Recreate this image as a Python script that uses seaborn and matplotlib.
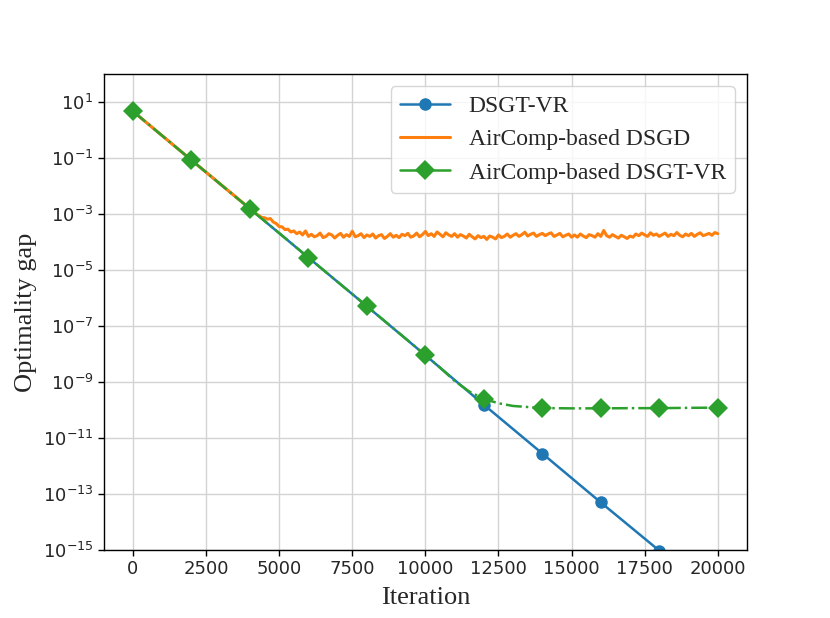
import numpy as np
import pandas as pd
import matplotlib
matplotlib.use("Agg")
import matplotlib.pyplot as plt
import matplotlib.ticker as mticker
import seaborn as sns

# ==================================================
# Data
# ==================================================
iters_vr = [0, 2000, 4000, 6000, 8000, 10000, 12000, 14000, 16000, 18000, 20000]
gap_dsgt_vr = [4.7, 8.5e-2, 1.55e-3, 2.8e-5, 5.1e-7, 9.1e-9,
               1.55e-10, 2.8e-12, 5.0e-14, 9.5e-16, 1.8e-17]

iters_air_vr = [0, 1000, 2000, 3000, 4000, 5000, 6000, 7000, 8000, 9000, 10000,
                10500, 11000, 11500, 12000, 12500, 13000, 14000, 15000, 16000,
                17000, 18000, 19000, 20000]
gap_air_dsgt_vr = [4.7, 6.3e-1, 8.5e-2, 1.15e-2, 1.55e-3, 2.1e-4, 2.8e-5, 3.8e-6,
                   5.1e-7, 6.9e-8, 9.1e-9, 3.3e-9, 1.1e-9, 4.6e-10, 2.5e-10,
                   1.75e-10, 1.4e-10, 1.18e-10, 1.15e-10, 1.15e-10, 1.17e-10,
                   1.17e-10, 1.2e-10, 1.22e-10]
air_vr_marker_iters = [0, 2000, 4000, 6000, 8000, 10000, 12000, 14000, 16000, 18000, 20000]

# AirComp-based DSGD: straight part, then noisy floor (values x 1e-4)
iters_dsgd = [0, 1000, 2000, 3000, 4000] + list(range(4100, 20001, 100))
gap_dsgd_head = [4.7, 6.3e-1, 8.5e-2, 1.15e-2, 1.55e-3]
gap_dsgd_tail = [
    12.6, 10.5, 8.9, 7.6, 7.4, 6.6, 6.9, 5.2, 4.6, 3.6,
    3.5, 2.8, 2.9, 2.3, 2.5, 2.0, 2.3, 1.8, 2.5, 1.6,
    1.9, 1.55, 1.7, 2.1, 1.45, 1.6, 2.0, 1.8, 1.4, 1.75,
    2.05, 1.5, 1.85, 1.6, 2.45, 1.55, 1.7, 2.0, 1.45, 1.8,
    1.6, 1.95, 1.4, 1.7, 1.85, 1.35, 1.6, 2.0, 1.5, 1.75,
    1.45, 1.9, 1.7, 2.05, 1.5, 1.65, 2.1, 1.55, 1.85, 2.4,
    1.7, 2.0, 1.6, 2.3, 1.9, 1.55, 2.15, 1.8, 1.6, 2.0,
    1.5, 1.85, 1.65, 1.4, 1.9, 1.55, 1.3, 1.7, 1.45, 1.6,
    1.25, 1.65, 1.5, 1.3, 1.8, 1.45, 1.6, 1.95, 1.5, 1.75,
    2.0, 1.6, 1.85, 2.25, 1.65, 1.9, 2.1, 1.6, 1.85, 2.05,
    1.7, 1.95, 2.15, 1.6, 1.8, 2.05, 1.55, 1.75, 1.95, 1.5,
    1.8, 1.5, 1.95, 1.65, 1.45, 1.85, 1.7, 1.5, 2.0, 1.6,
    2.6, 1.7, 1.5, 1.85, 1.6, 1.4, 1.75, 1.55, 1.35, 1.65,
    1.5, 1.95, 1.7, 2.1, 1.8, 1.6, 2.15, 1.75, 1.95, 1.6,
    1.85, 2.1, 1.6, 1.9, 1.7, 2.2, 1.75, 1.55, 1.95, 1.7,
    2.05, 1.6, 1.9, 2.15, 1.7, 1.85, 2.05, 1.75, 2.2, 2.0,
]
gap_dsgd = gap_dsgd_head + [v * 1e-4 for v in gap_dsgd_tail]

labels = ["DSGT-VR", "AirComp-based DSGD", "AirComp-based DSGT-VR"]
colors = ["#1f77b4", "#ff7f0e", "#2ca02c"]

# ==================================================
# Style
# ==================================================
sns.set_style("whitegrid", {
    "axes.edgecolor": "black",
    "grid.color": "#d3d3d3",
    "xtick.bottom": True,
    "ytick.left": True,
})
plt.rcParams["font.family"] = ["DejaVu Sans"]
plt.rcParams["axes.linewidth"] = 1.0
plt.rcParams["grid.linewidth"] = 1.0
serif = ["Liberation Serif", "DejaVu Serif"]

df_vr = pd.DataFrame({"Iteration": iters_vr, "gap": gap_dsgt_vr})
df_dsgd = pd.DataFrame({"Iteration": iters_dsgd, "gap": gap_dsgd})
df_air = pd.DataFrame({"Iteration": iters_air_vr, "gap": gap_air_dsgt_vr})
air_marks = [iters_air_vr.index(i) for i in air_vr_marker_iters]

fig, ax = plt.subplots(figsize=(8.3, 6.18), dpi=100)

sns.lineplot(data=df_vr, x="Iteration", y="gap", ax=ax, color=colors[0],
             marker="o", markersize=9, markeredgewidth=0, linewidth=1.8,
             label=labels[0])
sns.lineplot(data=df_dsgd, x="Iteration", y="gap", ax=ax, color=colors[1],
             linewidth=2.2, label=labels[1])
sns.lineplot(data=df_air, x="Iteration", y="gap", ax=ax, color=colors[2],
             marker="D", markersize=10, markeredgewidth=0, linewidth=1.8,
             linestyle="-.", markevery=air_marks, label=labels[2])

ax.set_yscale("log")
ax.set_ylim(1e-15, 1e2)
ax.set_yticks([10.0 ** e for e in range(-15, 2, 2)])
ax.yaxis.set_minor_locator(mticker.NullLocator())
ax.set_xticks([0, 2500, 5000, 7500, 10000, 12500, 15000, 17500, 20000])
ax.tick_params(axis="both", labelsize=13, length=4, width=1, color="black")

ax.set_xlabel("Iteration", fontsize=19, family=serif, labelpad=6)
ax.set_ylabel("Optimality gap", fontsize=19, family=serif, labelpad=4)

leg = ax.legend(loc="upper right", prop={"family": serif, "size": 17},
                handlelength=2.1, frameon=True)
leg.get_frame().set_edgecolor("#cccccc")
for h in leg.get_lines():
    h.set_linestyle("-")

plt.savefig("out.png", dpi=100)
plt.close()
